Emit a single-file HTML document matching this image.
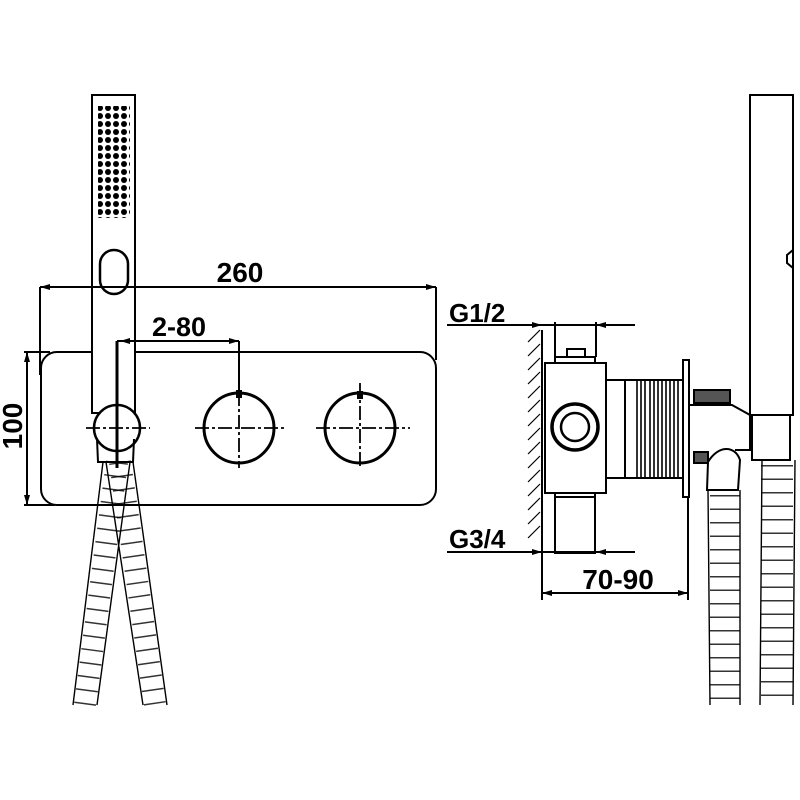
<!DOCTYPE html>
<html><head><meta charset="utf-8"><style>
html,body{margin:0;padding:0;background:#fff}
svg{display:block}
text{font-family:"Liberation Sans",Arial,sans-serif;font-weight:bold;fill:#000}
</style></head><body>
<svg width="800" height="800" viewBox="0 0 800 800" xmlns="http://www.w3.org/2000/svg">
<defs>
<marker id="a" viewBox="0 0 10 6" refX="10" refY="3" markerWidth="14" markerHeight="6" markerUnits="userSpaceOnUse" orient="auto-start-reverse"><path d="M0,0L10,3L0,6z" fill="#000"/></marker>
<pattern id="dots" width="8" height="8" patternUnits="userSpaceOnUse"><circle cx="4" cy="4" r="3" fill="#000"/></pattern>
</defs>
<g fill="none" stroke="#000" stroke-width="2">
<rect x="41" y="352" width="395" height="153" rx="16"/>
<rect x="92" y="95" width="43" height="318" fill="#fff"/>
<rect x="98" y="106" width="32" height="112" fill="url(#dots)" stroke="none"/>
<rect x="100" y="250" width="28" height="44" rx="14" stroke-width="2.5"/>
<circle cx="117" cy="428" r="23" fill="#fff" stroke-width="2.5"/>
<path d="M97,439 L98,462 L133,462 L134,439"/>
<path d="M103,462 L73,705 M97,705 L130,462 M106,462 L143,705 M167,705 L133,462" stroke-width="1.4"/>
<line x1="117" y1="462" x2="85" y2="705" stroke-width="22" stroke-dasharray="1.5 12" stroke-opacity="0.8"/>
<line x1="120" y1="462" x2="155" y2="705" stroke-width="22" stroke-dasharray="1.5 12" stroke-opacity="0.8"/>
<circle cx="239" cy="428" r="35" stroke-width="3"/>
<circle cx="360" cy="428" r="35" stroke-width="3"/>
<g stroke-dasharray="14 3 3 3" stroke-width="1.8">
<line x1="86" y1="428" x2="150" y2="428"/>
<line x1="195" y1="428" x2="287" y2="428"/>
<line x1="316" y1="428" x2="410" y2="428"/>
<line x1="239" y1="392" x2="239" y2="468"/>
<line x1="360" y1="383" x2="360" y2="468"/>
</g>
<line x1="117" y1="341" x2="117" y2="468" stroke-width="3"/>
<rect x="236" y="390" width="6" height="8" fill="#000" stroke="none"/>
<rect x="357" y="391" width="6" height="8" fill="#000" stroke="none"/>
<line x1="40" y1="287" x2="436" y2="287" marker-start="url(#a)" marker-end="url(#a)"/>
<line x1="40" y1="287" x2="40" y2="375"/>
<line x1="436" y1="287" x2="436" y2="360"/>
<line x1="117" y1="341" x2="239" y2="341" marker-end="url(#a)"/>
<line x1="120" y1="341" x2="135" y2="341" marker-start="url(#a)"/>
<line x1="239" y1="341" x2="239" y2="392"/>
<line x1="27" y1="352" x2="27" y2="505" marker-start="url(#a)" marker-end="url(#a)"/>
<line x1="24" y1="352" x2="50" y2="352"/>
<line x1="24" y1="505" x2="55" y2="505"/>

<line x1="542" y1="330" x2="542" y2="545"/>
<path d="M528,342 L540,330 M528,356 L540,344 M528,370 L540,358 M528,384 L540,372 M528,398 L540,386 M528,412 L540,400 M528,426 L540,414 M528,440 L540,428 M528,454 L540,442 M528,468 L540,456 M528,482 L540,470 M528,496 L540,484 M528,510 L540,498 M528,524 L540,512 M528,538 L540,526" stroke-width="1.2"/>
<rect x="555" y="357" width="40" height="140"/>
<rect x="555" y="497" width="40" height="56"/>
<rect x="545" y="363" width="61" height="130" fill="#fff"/>
<rect x="567" y="349" width="18" height="8"/>
<circle cx="575" cy="427" r="23" stroke-width="3.5"/>
<circle cx="575" cy="427" r="14" stroke-width="2.5"/>
<rect x="606" y="380" width="19" height="98"/>
<rect x="625" y="380" width="58" height="98"/>
<path d="M637,380V478M641,380V478M645,380V478M650,380V478M654,380V478M658,380V478M662,380V478M666,380V478M670,380V478M674,380V478M678,380V478" stroke-width="1.6"/>
<rect x="683" y="360" width="6" height="137"/>
<rect x="694" y="390" width="36" height="13" fill="#555"/>
<rect x="694" y="452" width="14" height="11" fill="#555"/>
<path d="M690,405 L732,405 L750,415 L750,450 L735,450 M708,462 C718,445 735,445 740,460 L738,490 L707,490 Z"/>
<rect x="750" y="95" width="43" height="320" fill="#fff"/>
<path d="M793,250 l-6,5 l0,8 l6,5"/>
<path d="M752,415 L752,460 L790,460 L790,415"/>
<path d="M708,490 L710,705 M740,490 L740,705 M762,460 L760,705 M795,460 L793,705" stroke-width="1.4"/>
<line x1="725" y1="495" x2="725" y2="705" stroke-width="30" stroke-dasharray="1.5 12" stroke-opacity="0.8"/>
<line x1="777" y1="465" x2="777" y2="705" stroke-width="32" stroke-dasharray="1.5 12" stroke-opacity="0.8"/>
<line x1="447" y1="325" x2="542" y2="325" marker-end="url(#a)"/>
<line x1="596" y1="325" x2="635" y2="325" marker-start="url(#a)"/>
<line x1="542" y1="325" x2="596" y2="325"/>
<line x1="555" y1="322" x2="555" y2="357"/>
<line x1="596" y1="322" x2="596" y2="357"/>
<line x1="447" y1="552" x2="542" y2="552" marker-end="url(#a)"/>
<line x1="596" y1="552" x2="635" y2="552" marker-start="url(#a)"/>
<line x1="542" y1="552" x2="596" y2="552"/>
<line x1="542" y1="593" x2="688" y2="593" marker-start="url(#a)" marker-end="url(#a)"/>
<line x1="542" y1="545" x2="542" y2="600"/>
<line x1="688" y1="497" x2="688" y2="600"/>
</g>
<text x="240" y="282" font-size="28" text-anchor="middle">260</text>
<text x="179" y="336" font-size="27" text-anchor="middle">2-80</text>
<text transform="translate(22,426) rotate(-90)" font-size="28" text-anchor="middle">100</text>
<text x="449" y="322" font-size="26">G1/2</text>
<text x="449" y="548" font-size="26">G3/4</text>
<text x="618" y="589" font-size="28" text-anchor="middle">70-90</text>
</svg>
</body></html>
